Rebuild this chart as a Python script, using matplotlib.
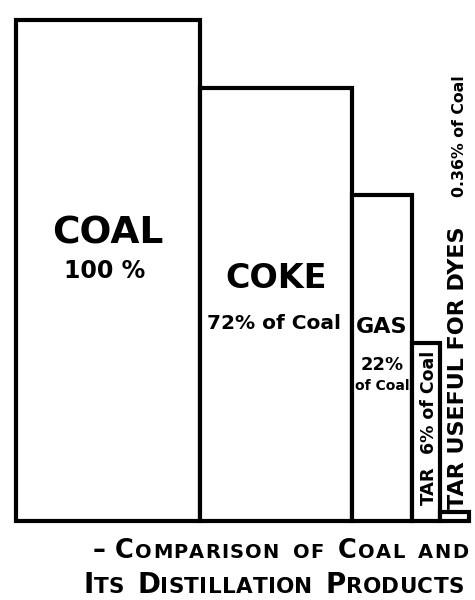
import matplotlib
matplotlib.use("Agg")
import matplotlib.pyplot as plt
import numpy as np

# ---- data (areas roughly proportional to share of coal) ----
products = ["COAL", "COKE", "GAS", "TAR", "TAR USEFUL FOR DYES"]
percent_of_coal = [100, 72, 22, 6, 0.36]
bar_heights = [501, 433, 326, 178, 9]      # drawn heights (picture units)
bar_widths = [184, 152, 60, 28, 29]        # drawn widths (picture units)
caption_line1 = [("\u2013 C", "OMPARISON"), ("", "OF"), ("C", "OAL"), ("", "AND")]
caption_line2 = [("I", "TS"), ("D", "ISTILLATION"), ("P", "RODUCTS")]

plt.rcParams['font.family'] = ['DejaVu Sans']

fig = plt.figure(figsize=(4.75, 6.0), dpi=100)
ax = fig.add_axes([0, 0, 1, 1])
ax.set_xlim(0, 475)
ax.set_ylim(-79, 521)
ax.axis('off')

lefts = 16 + np.concatenate([[0], np.cumsum(bar_widths)[:-1]])
ax.bar(lefts, bar_heights, width=bar_widths, align='edge', facecolor='white',
       edgecolor='black', linewidth=3, joinstyle='miter')
centers = lefts + np.array(bar_widths) / 2

W = 'bold'
# COAL
ax.text(centers[0], 288, products[0], ha='center', va='center', fontsize=27, fontweight=W)
ax.text(centers[0] - 3, 250, f"{percent_of_coal[0]:g} %", ha='center', va='center', fontsize=17, fontweight=W)
# COKE
ax.text(centers[1], 242, products[1], ha='center', va='center', fontsize=24, fontweight=W)
ax.text(centers[1] - 2, 197.5, f"{percent_of_coal[1]:g}% of Coal", ha='center', va='center', fontsize=14.5, fontweight=W)
# GAS
ax.text(centers[2], 194, products[2], ha='center', va='center', fontsize=16, fontweight=W)
ax.text(centers[2], 156, f"{percent_of_coal[2]:g}%", ha='center', va='center', fontsize=13, fontweight=W)
ax.text(centers[2], 135, "of Coal", ha='center', va='center', fontsize=10, fontweight=W)
# TAR (rotated)
ax.text(429, 35, products[3], ha='center', va='center', rotation=90, fontsize=13, fontweight=W)
ax.text(429, 119, f"{percent_of_coal[3]:g}% of Coal", ha='center', va='center', rotation=90, fontsize=12.5, fontweight=W)
# dyes
ax.text(458, 153, products[4], ha='center', va='center', rotation=90, fontsize=16, fontweight=W)
ax.text(460, 385, f"{percent_of_coal[4]:g}% of Coal", ha='center', va='center', rotation=90, fontsize=11.3, fontweight=W)


def small_caps_line(words, x_left, x_right, y, big, small, word_gap):
    fig.canvas.draw()
    r = fig.canvas.get_renderer()
    inv = ax.transData.inverted()

    def wdt(t):
        bb = t.get_window_extent(renderer=r)
        return inv.transform((bb.x1, bb.y0))[0] - inv.transform((bb.x0, bb.y0))[0]

    words_chars = []
    for b, s in words:
        chars = []
        for ch in b:
            if ch == ' ':
                chars.append(None)
            else:
                chars.append(ax.text(0, y, ch, fontsize=big, fontweight=W, va='baseline'))
        for ch in s:
            chars.append(ax.text(0, y, ch, fontsize=small, fontweight=W, va='baseline'))
        words_chars.append(chars)
    widths = [[(word_gap * 0.5 if t is None else wdt(t)) for t in chars] for chars in words_chars]
    n_gaps = sum(len(c) - 1 for c in words_chars)
    ink = sum(sum(w) for w in widths) + word_gap * (len(words_chars) - 1)
    track = (x_right - x_left - ink) / n_gaps
    x = x_left
    for chars, ws in zip(words_chars, widths):
        for i, (t, w) in enumerate(zip(chars, ws)):
            if t is not None:
                t.set_x(x)
            x += w
            if i < len(chars) - 1:
                x += track
        x += word_gap


small_caps_line(caption_line1, 93, 468, -37, 18.5, 14, 14)
small_caps_line(caption_line2, 83, 464, -72, 20, 15.5, 13)

fig.savefig("out.png", dpi=100)
